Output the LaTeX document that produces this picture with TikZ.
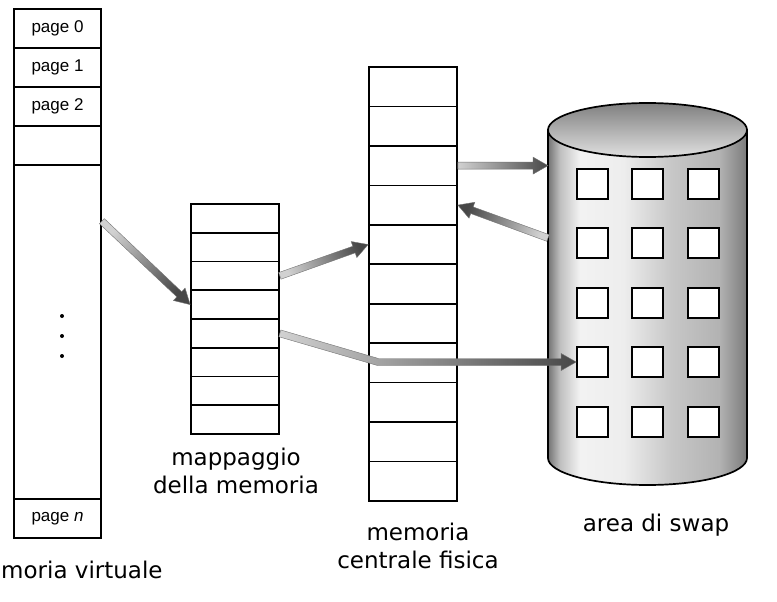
\documentclass[tikz,border=0pt]{standalone}
\usepackage{fontspec}
\setmainfont{DejaVu Sans}
\newfontfamily\pgfont{Liberation Sans}
\usetikzlibrary{calc}
\pgfdeclarehorizontalshading{cylbody}{100bp}{color(0bp)=(black!55); color(25bp)=(black!55); color(28bp)=(black!25); color(33bp)=(black!5); color(44bp)=(black!7); color(56bp)=(black!22); color(68bp)=(black!30); color(75bp)=(black!52); color(100bp)=(black!52)}
\newcommand\fatarrow[3]{%
  \coordinate (fa-h) at ($(#2)!15pt!(#1)$);
  \path[arrowshade, shading angle=#3]
    ($(#1)!3.5pt!90:(#2)$) -- ($(fa-h)!3.5pt!90:(#2)$) -- ($(fa-h)!8.5pt!90:(#2)$) -- (#2)
    -- ($(fa-h)!8.5pt!-90:(#2)$) -- ($(fa-h)!3.5pt!-90:(#2)$) -- ($(#1)!3.5pt!-90:(#2)$) -- cycle;
}
\tikzset{
  cell/.style={draw, line width=1.7pt, inner sep=0pt},
  vcell/.style={cell, minimum width=87pt, minimum height=39pt, font=\pgfont\fontsize{17}{20}\selectfont},
  mcell/.style={cell, minimum width=88pt, minimum height=28.75pt},
  pcell/.style={cell, minimum width=88pt, minimum height=39.45pt},
  slot/.style={cell, fill=white, minimum width=31pt, minimum height=30pt},
  lbltext/.style={font=\fontsize{23}{28}\selectfont, align=center, inner sep=0pt},
  arrowshade/.style={draw=black!55, line width=0.4pt, top color=black!72, bottom color=black!18},
  vdot/.style={circle, fill=black, inner sep=0pt, minimum size=4pt},
}
\begin{document}
\begin{tikzpicture}[x=1pt, y=-1pt]
\useasboundingbox (0,0) rectangle (777,602);
\fill[white] (0,0) rectangle (777,602);
% virtual memory
\node[vcell] (v0) at (57.5,28.5) {page 0};
\node[vcell] (v1) at (57.5,67.5) {page 1};
\node[vcell] (v2) at (57.5,106.5) {page 2};
\node[vcell] (v3) at (57.5,145.5) {};
\node[vcell, minimum height=334pt] (v4) at (57.5,332) {};
\node[vcell] (vn) at (57.5,518.5) {page \textit{n}};
\node[vdot] (dot1) at (62,316) {};
\node[vdot] (dot2) at (62,336) {};
\node[vdot] (dot3) at (62,356) {};
% mapping table
\foreach \i in {0,...,7} {\node[mcell] (m\i) at (235,{204+28.75*(\i+0.5)}) {};}
% physical memory
\foreach \i in {0,...,10} {\node[pcell] (p\i) at (413,{67+39.45*(\i+0.5)}) {};}
% swap cylinder
\shade[shading=cylbody, draw, line width=1.7pt] (548,130) -- (548,458)
  arc[start angle=180, end angle=360, x radius=99.5pt, y radius=27pt] -- (747,130) -- cycle;
\shade[top color=black!50, bottom color=black!12, draw, line width=1.7pt]
  (647.5,130) ellipse[x radius=99.5pt, y radius=27pt];
\coordinate (cylL) at (548,0);
\coordinate (cylB) at (548,238);
\foreach \r/\y in {0/184,1/243,2/303,3/362,4/422} {
  \foreach \c/\x in {0/592.5,1/647.5,2/703.5} {\node[slot] (sq\r\c) at (\x,\y) {};}
}
% arrows
\coordinate (a1t) at ($(v4.north east)+(0,57)$);
\fatarrow{a1t}{m3.west}{-133}
\fatarrow{m2.east}{p4.west}{-70}
\coordinate (cylA) at (p2.east -| cylL);
\fatarrow{p2.east}{cylA}{-90}
\fatarrow{cylB}{p3.east}{70}
\coordinate (bend5) at (378,362);
\path[arrowshade, shading angle=-90]
  ($(m4.east)+(0.96,-3.37)$) -- ($(bend5)+(0.5,-3.5)$) -- ($(sq30.west)+(-15,-3.5)$)
  -- ($(sq30.west)+(-15,-8.5)$) -- (sq30.west) -- ($(sq30.west)+(-15,8.5)$)
  -- ($(sq30.west)+(-15,3.5)$) -- ($(bend5)+(-0.5,3.5)$) -- ($(m4.east)+(-0.96,3.37)$) -- cycle;
% labels
\node[lbltext, anchor=base west] (lvm) at (1,578) {moria virtuale};
\node[lbltext, anchor=base] (lmap) at (236,493) {mappaggio\\della memoria};
\node[lbltext, anchor=base] (lphys) at (418,568) {memoria\\centrale fisica};
\node[lbltext, anchor=base] (lswap) at (656,531) {area di swap};
\end{tikzpicture}
\end{document}
